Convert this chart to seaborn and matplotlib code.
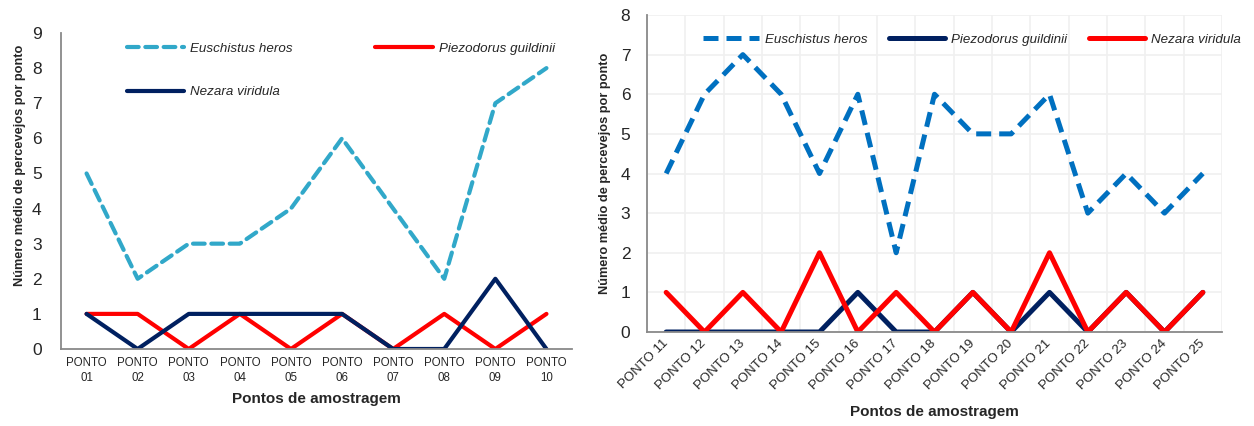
import matplotlib
matplotlib.use("Agg")
import matplotlib.pyplot as plt
import seaborn as sns
import pandas as pd
from matplotlib.lines import Line2D

sns.set_theme(style="white")
plt.rcParams['font.family'] = ['Liberation Sans', 'DejaVu Sans']

# ---- data ----
left_points = ["PONTO\n01", "PONTO\n02", "PONTO\n03", "PONTO\n04", "PONTO\n05",
               "PONTO\n06", "PONTO\n07", "PONTO\n08", "PONTO\n09", "PONTO\n10"]
left_euschistus = [5, 2, 3, 3, 4, 6, 4, 2, 7, 8]
left_piezodorus = [1, 1, 0, 1, 0, 1, 0, 1, 0, 1]
left_nezara = [1, 0, 1, 1, 1, 1, 0, 0, 2, 0]

right_points = ["PONTO 11", "PONTO 12", "PONTO 13", "PONTO 14", "PONTO 15",
                "PONTO 16", "PONTO 17", "PONTO 18", "PONTO 19", "PONTO 20",
                "PONTO 21", "PONTO 22", "PONTO 23", "PONTO 24", "PONTO 25"]
right_euschistus = [4, 6, 7, 6, 4, 6, 2, 6, 5, 5, 6, 3, 4, 3, 4]
right_piezodorus = [0, 0, 0, 0, 0, 1, 0, 0, 1, 0, 1, 0, 1, 0, 1]
right_nezara = [1, 0, 1, 0, 2, 0, 1, 0, 1, 0, 2, 0, 1, 0, 1]

species = ["Euschistus heros", "Piezodorus guildinii", "Nezara viridula"]

TEAL = "#31a8c9"
BLUE = "#0070c0"
RED = "#ff0000"
NAVY = "#002060"
AXC = "#898989"
LEGSIZE = 9.6

fig = plt.figure(figsize=(12.54, 4.26), dpi=100)
axL = fig.add_axes([61/1254, 1-349/426, (572-61)/1254, (349-33)/426])
axR = fig.add_axes([647/1254, 1-332/426, (1222-647)/1254, (332-15)/426])

def long_df(points, e, p, n):
    rows = []
    for i, lab in enumerate(points):
        rows.append((i, lab, species[0], e[i]))
        rows.append((i, lab, species[1], p[i]))
        rows.append((i, lab, species[2], n[i]))
    return pd.DataFrame(rows, columns=["idx", "ponto", "sp", "val"])

dfL = long_df(left_points, left_euschistus, left_piezodorus, left_nezara)
dfR = long_df(right_points, right_euschistus, right_piezodorus, right_nezara)

# ---- left panel ----
lwL = 3.0
sns.lineplot(data=dfL[dfL.sp == species[0]], x="idx", y="val", ax=axL, color=TEAL,
             lw=lwL, legend=False)
axL.lines[-1].set_dashes([2.8, 1.6])
axL.lines[-1].set_dash_capstyle("round")
sns.lineplot(data=dfL[dfL.sp == species[1]], x="idx", y="val", ax=axL, color=RED,
             lw=lwL, legend=False)
sns.lineplot(data=dfL[dfL.sp == species[2]], x="idx", y="val", ax=axL, color=NAVY,
             lw=lwL, legend=False)

axL.set_xlim(-0.5, len(left_points) - 0.5)
axL.set_ylim(0, 9)
axL.set_yticks(range(0, 10))
axL.set_xticks(range(len(left_points)))
axL.set_xticklabels(left_points, fontsize=8.3, linespacing=1.3)
axL.tick_params(axis="y", labelsize=12.5, length=0, pad=14)
axL.tick_params(axis="x", length=0, pad=6)
axL.set_xlabel("Pontos de amostragem", fontsize=11, fontweight="bold", labelpad=6)
axL.set_ylabel("Número médio de percevejos por ponto", fontsize=9.2, fontweight="bold")
axL.yaxis.set_label_coords(-0.068, 0.58)
for s in ["top", "right"]:
    axL.spines[s].set_visible(False)
for s in ["left", "bottom"]:
    axL.spines[s].set_color(AXC)
    axL.spines[s].set_linewidth(1.3)

hL = [Line2D([], [], color=TEAL, lw=lwL, dashes=[2.8, 1.6], dash_capstyle="round"),
      Line2D([], [], color=NAVY, lw=lwL),
      Line2D([], [], color=RED, lw=lwL)]
labsL = [species[0], species[2], species[1]]
axL.legend(hL, labsL, ncol=2, frameon=False,
           loc="upper left", bbox_to_anchor=(0.105, 1.008),
           prop={"style": "italic", "size": LEGSIZE}, handlelength=4.3,
           handletextpad=0.45, columnspacing=6.2, labelspacing=2.35)

# ---- right panel ----
lwR = 3.6
sns.lineplot(data=dfR[dfR.sp == species[0]], x="idx", y="val", ax=axR, color=BLUE,
             lw=lwR, legend=False)
axR.lines[-1].set_dashes([3.0, 1.6])
sns.lineplot(data=dfR[dfR.sp == species[1]], x="idx", y="val", ax=axR, color=NAVY,
             lw=lwR, legend=False)
sns.lineplot(data=dfR[dfR.sp == species[2]], x="idx", y="val", ax=axR, color=RED,
             lw=lwR, legend=False)

axR.set_xlim(-0.5, len(right_points) - 0.5)
axR.set_ylim(0, 8)
axR.set_yticks(range(0, 9))
axR.set_xticks([i - 0.5 for i in range(len(right_points) + 1)], minor=False)
axR.set_xticklabels([""] * (len(right_points) + 1))
axR.set_xticks(range(len(right_points)), minor=True)
axR.set_xticklabels(right_points, minor=True, rotation=45, ha="right", va="center",
                    rotation_mode="anchor", fontsize=9.5)
axR.tick_params(axis="x", which="both", length=0)
axR.tick_params(axis="x", which="minor", pad=7)
axR.tick_params(axis="y", labelsize=12.5, length=0, pad=12)
axR.grid(True, which="major", color="#f0f0f0", lw=1.2)
axR.set_axisbelow(True)
axR.set_xlabel("Pontos de amostragem", fontsize=11, fontweight="bold", labelpad=9)
axR.set_ylabel("Número médio de percevejos por ponto", fontsize=9.2, fontweight="bold")
axR.yaxis.set_label_coords(-0.063, 0.5)
for s in ["top", "right"]:
    axR.spines[s].set_visible(False)
for s in ["left", "bottom"]:
    axR.spines[s].set_color(AXC)
    axR.spines[s].set_linewidth(1.3)

hR = [Line2D([], [], color=BLUE, lw=lwR, dashes=[3.0, 1.6]),
      Line2D([], [], color=NAVY, lw=lwR),
      Line2D([], [], color=RED, lw=lwR)]
axR.legend(hR, species, ncol=3, frameon=False, loc="upper left",
           bbox_to_anchor=(0.077, 0.98), prop={"style": "italic", "size": LEGSIZE},
           handlelength=4.2, handletextpad=0.45, columnspacing=1.6)

fig.savefig("out.png", dpi=100)
